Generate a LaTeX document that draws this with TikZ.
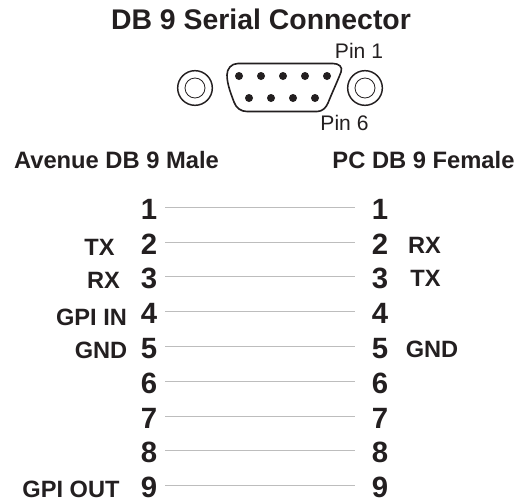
\documentclass[tikz,border=0pt]{standalone}
\usepackage{fontspec}
\setmainfont{Liberation Sans}
\definecolor{ink}{HTML}{231F20}
\definecolor{wire}{HTML}{BDBDBD}
\tikzset{
  px/.style={x=0.75pt,y=-0.75pt},
  title/.style={font=\fontsize{21.3}{24}\selectfont\bfseries,text=ink,inner sep=0pt,anchor=base},
  pin/.style={font=\fontsize{15.8}{18}\selectfont,text=ink,inner sep=0pt,anchor=base},
  head/.style={font=\fontsize{17.8}{20}\selectfont\bfseries,text=ink,inner sep=0pt,anchor=base},
  num/.style={font=\fontsize{22}{24}\selectfont\bfseries,text=ink,anchor=base,inner sep=0pt,outer sep=0pt,text height=18pt,text depth=0pt,text width=16.5pt,align=center},
  sig/.style={font=\fontsize{17.7}{20}\selectfont\bfseries,text=ink,inner sep=0pt,anchor=base},
  wireline/.style={draw=wire,line width=0.6pt,shorten <=3.75pt,shorten >=10.5pt},
  shell/.style={draw=ink,line width=1.2pt,fill=white},
  hole/.style={fill=ink,draw=none,circle,minimum size=6pt,inner sep=0pt},
  screwout/.style={draw=ink,line width=1.1pt,circle,inner sep=0pt,minimum size=26pt},
  screwin/.style={draw=ink,line width=0.6pt,circle,inner sep=0pt,minimum size=15pt}
}
\begin{document}
\begin{tikzpicture}[px]
\useasboundingbox (0,0) rectangle (521,500);
\node[title] (t) at (261,29.5) {DB 9 Serial Connector};
\node[pin] (p1) at (359,58) {Pin 1};
\node[pin] (p6) at (344.5,130) {Pin 6};
\node[head] (hl) at (116.5,168) {Avenue DB 9 Male};
\node[head] (hr) at (423.5,168) {PC DB 9 Female};
% connector
\node[screwout] (s1a) at (195,88) {};
\node[screwin] (s1b) at (195,88) {};
\node[screwout] (s2a) at (365,88) {};
\node[screwin] (s2b) at (365,88) {};
\draw[shell] (238,63.5) .. controls (231,63.5) and (227,69) .. (227,75)
  .. controls (227,84) and (231,94) .. (234,102)
  .. controls (236,108) and (241,111.5) .. (247,111.5)
  -- (317,111.5) .. controls (322,111.5) and (326,108) .. (328,103)
  .. controls (332,93) and (338,80) .. (341,72)
  .. controls (343,67) and (339,63.5) .. (333,63.5) -- cycle;
\foreach \x [count=\i] in {239,261,283,305,327}
  \node[hole] (a\i) at (\x,76) {};
\foreach \x [count=\i] in {249,271,293,315}
  \node[hole] (b\i) at (\x,98) {};
% rows
\foreach \i/\y in {1/219,2/254,3/288,4/323.5,5/358,6/393,7/428,8/462,9/497}{
  \node[num] (l\i) at (149,\y) {\i};
  \node[num] (r\i) at (380,\y) {\i};
  \draw[wireline] (l\i) -- (r\i);
}
\node[sig] (stx) at (99.5,255) {TX};
\node[sig] (srx) at (103.5,288) {RX};
\node[sig] (sgi) at (91.5,325) {GPI IN};
\node[sig] (sgn) at (101,358) {GND};
\node[sig] (sgo) at (71,497) {GPI OUT};
\node[sig] (rrx) at (424.5,253) {RX};
\node[sig] (rtx) at (425.5,286) {TX};
\node[sig] (rgn) at (432,357) {GND};
\end{tikzpicture}
\end{document}
